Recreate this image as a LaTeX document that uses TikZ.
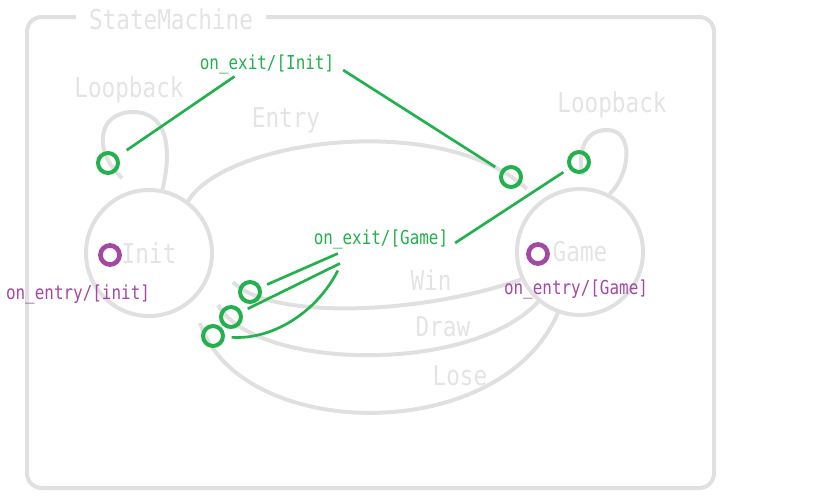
\documentclass[tikz,border=0pt]{standalone}
\usepackage{fontspec}
\newfontfamily\diagfont[FakeStretch=0.83]{DejaVu Sans Mono}
\usetikzlibrary{positioning}
\definecolor{framegray}{RGB}{224,224,224}
\definecolor{labelgray}{RGB}{228,228,228}
\definecolor{exitgreen}{RGB}{34,177,76}
\definecolor{entrypurple}{RGB}{163,73,164}

\begin{document}
\begin{tikzpicture}[
  x=0.75pt, y=-0.75pt,
  bigtext/.style={font=\diagfont\fontsize{20.5}{22}\selectfont},
  smalltext/.style={font=\diagfont\fontsize{14.4}{16}\selectfont},
  statenode/.style={circle, draw=framegray, line width=3pt, minimum size=94.5pt, inner sep=0pt, text=labelgray, bigtext},
  graylabel/.style={text=labelgray, bigtext, inner sep=2pt},
  exitlabel/.style={text=exitgreen, smalltext, inner sep=2pt},
  entrylabel/.style={text=entrypurple, smalltext, inner sep=2pt},
  exitmark/.style={circle, draw=exitgreen, line width=3pt, minimum size=15pt, inner sep=0pt},
  entrymark/.style={circle, draw=entrypurple, line width=3.5pt, minimum size=14.3pt, inner sep=0pt},
  trans/.style={draw=framegray, line width=3pt},
  exitline/.style={draw=exitgreen, line width=2pt, shorten >=5pt}
]
\useasboundingbox (0,0) rectangle (826,501);

% outer frame
\draw[framegray, line width=3pt, rounded corners=11pt] (27,17) rectangle (714,488);
\node[graylabel, fill=white, inner xsep=10pt] (machine) at (171,19) {StateMachine};

% states
\node[statenode] (init) at (149,253) {Init};
\node[statenode] (game) at (580,252) {Game};

\coordinate (iloopend) at (122,178);
\coordinate (entryend) at (527,189);
\coordinate (gloopend) at (582,175);
\coordinate (winend) at (233,282);
\coordinate (drawend) at (218,305);
\coordinate (loseend) at (200,323);

% transitions
\draw[trans] (init.78) .. controls (172,150) and (168,112) .. (133,112)
  .. controls (98,112) and (92,150) .. (iloopend);
\draw[trans] (init.53) .. controls (225,140) and (440,110) .. (entryend);
\draw[trans] (game.63) .. controls (630,175) and (635,130) .. (607,130)
  .. controls (585,130) and (578,150) .. (gloopend);
\draw[trans] (winend) .. controls (270,320) and (420,315) .. (game.205);
\draw[trans] (drawend) .. controls (255,370) and (470,375) .. (game.230);
\draw[trans] (loseend) .. controls (240,442) and (500,447) .. (game.250);

\node[graylabel] (iloop) at (129,90) {Loopback};
\node[graylabel] (gloop) at (612,105) {Loopback};
\node[graylabel] (entry) at (286,120) {Entry};
\node[graylabel] (win) at (431,280) {Win};
\node[graylabel] (draw) at (443,327) {Draw};
\node[graylabel] (lose) at (460,376) {Lose};

% exit / entry markers
\node[exitmark] (iloopc) at (108,163) {};
\node[exitmark] (entryc) at (511,177) {};
\node[exitmark] (gloopc) at (579,162) {};
\node[exitmark] (winc) at (250,292) {};
\node[exitmark] (drawc) at (231,317) {};
\node[exitmark] (losec) at (213,336) {};
\node[entrymark] (initin) at (110,255) {};
\node[entrymark] (gamein) at (538,254) {};

\node[exitlabel] (iexit) at (267,64) {on\_exit/[Init]};
\node[exitlabel] (gexit) at (381,239) {on\_exit/[Game]};
\node[entrylabel] (ientry) at (78,294) {on\_entry/[init]};
\node[entrylabel] (gentry) at (576,289) {on\_entry/[Game]};

\draw[exitline, shorten >=8pt] (iexit.201) -- (iloopc);
\draw[exitline] ([shift={(6,6)}]iexit.east) -- (entryc);
\draw[exitline] ([shift={(4,4)}]gexit.east) -- (gloopc);
\draw[exitline] ([shift={(27,2)}]gexit.south west) -- (winc);
\draw[exitline] ([shift={(29,12)}]gexit.south west) -- (drawc);
\draw[exitline] ([shift={(27,19)}]gexit.south west) .. controls (315,315) and (270,340) .. (losec);
\end{tikzpicture}
\end{document}
